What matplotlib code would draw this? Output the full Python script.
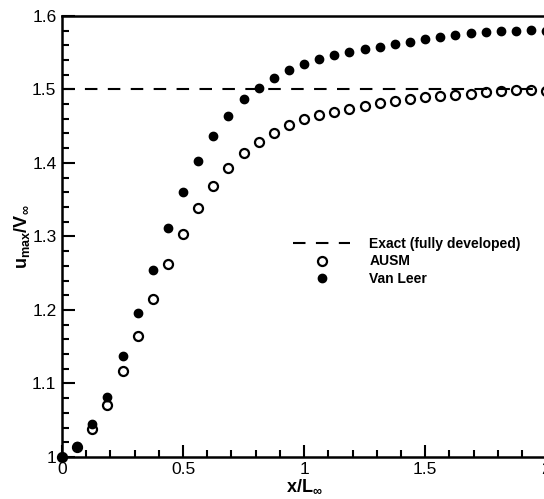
import matplotlib
matplotlib.use('Agg')
import matplotlib.pyplot as plt
import numpy as np
from matplotlib.ticker import MultipleLocator, FuncFormatter

plt.rcParams['font.family'] = ['Liberation Sans', 'DejaVu Sans']
plt.rcParams['mathtext.fontset'] = 'custom'
plt.rcParams['mathtext.bf'] = 'Liberation Sans:bold'
plt.rcParams['mathtext.rm'] = 'Liberation Sans'

# x/L positions (step 1/16)
x = [i / 16 for i in range(33)]

# AUSM (open circles)
ausm = [1.000, 1.014, 1.038, 1.071, 1.117, 1.165, 1.2145, 1.262, 1.303, 1.339,
        1.369, 1.393, 1.413, 1.428, 1.441, 1.451, 1.460, 1.465, 1.469, 1.474,
        1.4776, 1.481, 1.484, 1.4867, 1.489, 1.491, 1.4925, 1.494, 1.496, 1.498,
        1.499, 1.499, 1.498]

# Van Leer (filled circles)
vanleer = [1.000, 1.015, 1.0445, 1.082, 1.137, 1.1955, 1.255, 1.311, 1.361, 1.403,
           1.437, 1.464, 1.4867, 1.5025, 1.516, 1.5265, 1.535, 1.5415, 1.547, 1.5514,
           1.555, 1.558, 1.5616, 1.565, 1.5687, 1.5715, 1.5742, 1.5769, 1.578, 1.5789,
           1.580, 1.5806, 1.580]

exact_x = [0, 2]
exact_y = [1.5, 1.5]

fig = plt.figure(figsize=(5.44, 4.99), dpi=100)
ax = fig.add_axes([0.114, 0.0842, 0.89, 0.884])

ax.plot(exact_x, exact_y, color='black', lw=1.5, dashes=(6, 5),
        label='Exact (fully developed)')
ax.plot(x, ausm, 'o', mfc='none', mec='black', mew=1.6, ms=6.5,
        label='AUSM', clip_on=False, zorder=3)
ax.plot(x, vanleer, 'o', color='black', ms=6, label='Van Leer',
        clip_on=False, zorder=4)

ax.set_xlim(0, 2)
ax.set_ylim(1, 1.6)
ax.xaxis.set_major_locator(MultipleLocator(0.5))
ax.xaxis.set_minor_locator(MultipleLocator(0.1))
ax.yaxis.set_major_locator(MultipleLocator(0.1))
ax.yaxis.set_minor_locator(MultipleLocator(0.02))
fmt = FuncFormatter(lambda v, p: ('%.2f' % v).rstrip('0').rstrip('.'))
ax.xaxis.set_major_formatter(fmt)
ax.yaxis.set_major_formatter(fmt)

ax.tick_params(which='both', direction='in', width=1.5, labelsize=12.5,
               top=False, right=False)
ax.tick_params(which='major', length=9)
ax.tick_params(axis='y', which='major', pad=4)
ax.tick_params(axis='x', which='major', pad=3.5)
ax.tick_params(which='minor', length=5)
for s in ax.spines.values():
    s.set_linewidth(1.8)

ax.set_xlabel(r'$\mathbf{x/L_\infty}$', fontsize=13, labelpad=0)
ax.set_ylabel(r'$\mathbf{u_{max}/V_\infty}$', fontsize=13, labelpad=0)

leg = ax.legend(loc='upper left', bbox_to_anchor=(0.4635, 0.5145), frameon=False,
                prop={'weight': 'bold', 'size': 10}, handlelength=4.1,
                labelspacing=0.25, handletextpad=1.37, borderpad=0)

fig.savefig('out.png', dpi=100)
